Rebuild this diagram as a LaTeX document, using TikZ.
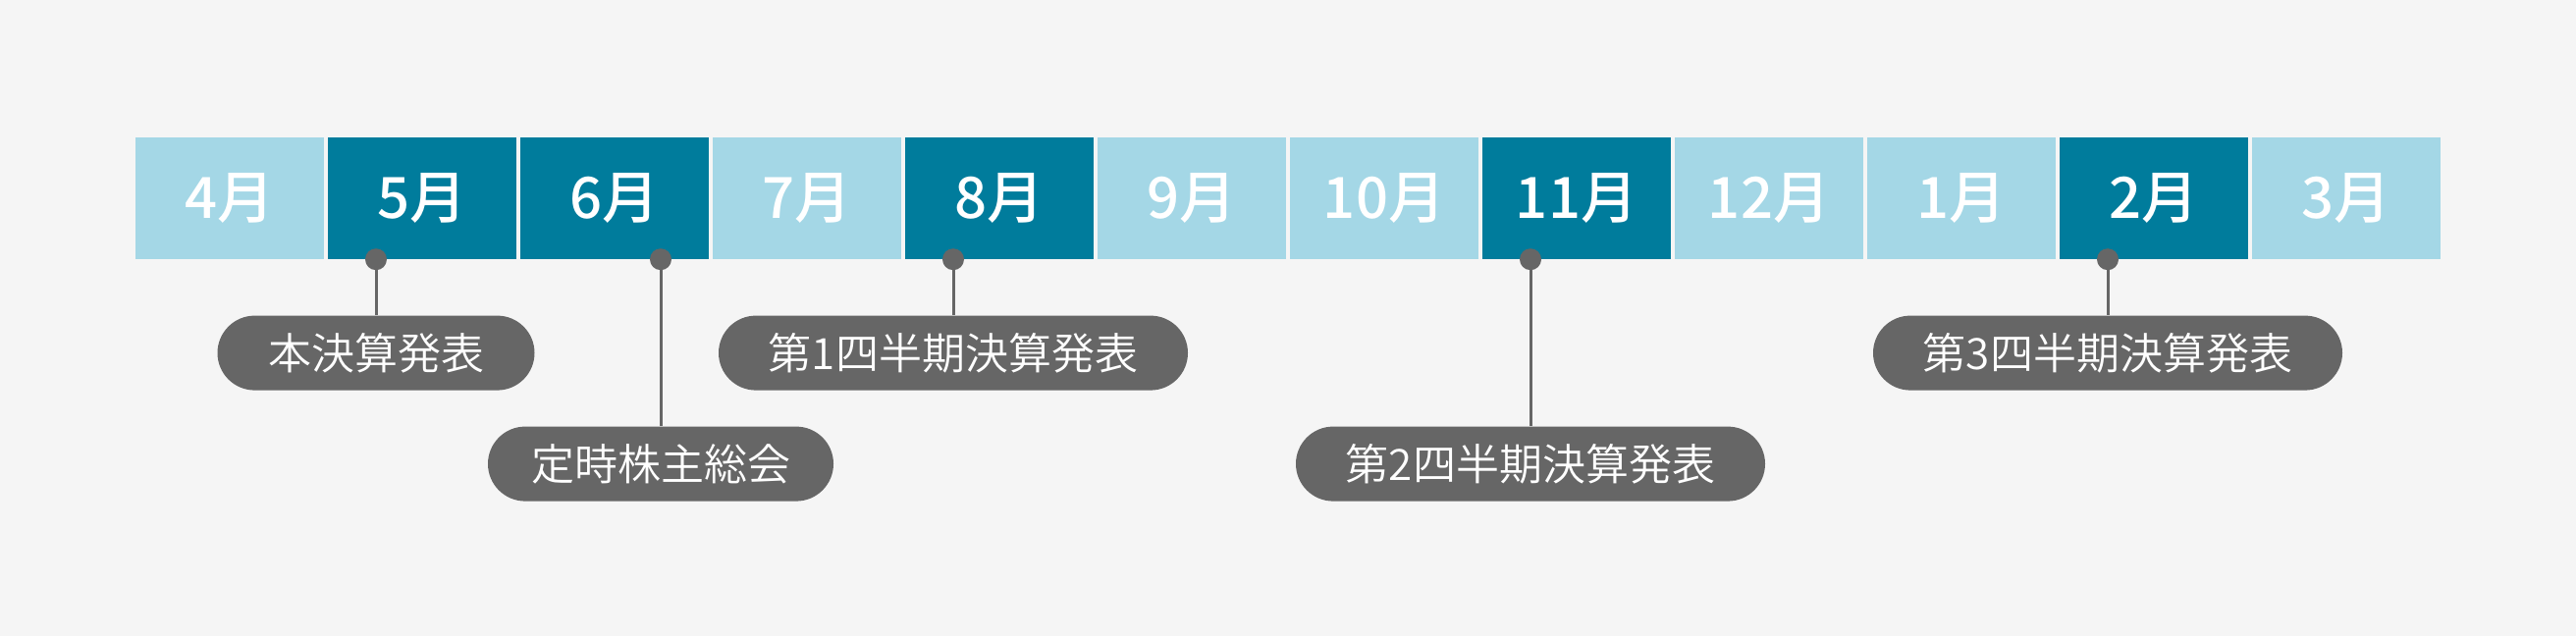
\documentclass[tikz,border=0pt]{standalone}
\usepackage{fontspec}
\newfontfamily\jpfont{Noto Sans CJK JP DemiLight}
\newfontfamily\jpmedium{Noto Sans CJK JP Medium}
\usetikzlibrary{positioning}

\definecolor{bgcol}{HTML}{F5F5F5}
\definecolor{lightcell}{HTML}{A4D7E6}
\definecolor{darkcell}{HTML}{007C9C}
\definecolor{callgray}{HTML}{666666}

\tikzset{
  month/.style={minimum width=192pt, minimum height=124pt, inner sep=0pt,
    text=white, font=\jpmedium\fontsize{58}{58}\selectfont},
  callout/.style={fill=callgray, rounded corners=38pt, minimum height=76pt,
    minimum width=#1, inner sep=0pt, text=white,
    font=\jpfont\fontsize{44}{44}\selectfont},
  pin/.style={circle, fill=callgray, minimum size=22pt, inner sep=0pt},
  stem/.style={callgray, line width=3pt}
}

\begin{document}
\begin{tikzpicture}[x=1pt,y=-1pt]
  \fill[bgcol] (0,0) rectangle (2624,648);
  \useasboundingbox (0,0) rectangle (2624,648);

  % month cells
  \foreach \m/\col [count=\i from 0] in {4/lightcell,5/darkcell,6/darkcell,
      7/lightcell,8/darkcell,9/lightcell,10/lightcell,11/darkcell,
      12/lightcell,1/lightcell,2/darkcell,3/lightcell}
    \node[month, fill=\col] (m\m) at (234+196*\i,202) {\m{}月};

  % pins on the bar
  \node[pin, xshift=-47pt] (p5) at (m5.south) {};
  \node[pin, xshift=47pt] (p6) at (m6.south) {};
  \node[pin, xshift=-47pt] (p8) at (m8.south) {};
  \node[pin, xshift=-47pt] (p11) at (m11.south) {};
  \node[pin, xshift=-47pt] (p2) at (m2.south) {};

  % callouts
  \node[callout=323pt, below=46pt of p5] (c5) {本決算発表};
  \node[callout=352pt, below=159pt of p6] (c6) {定時株主総会};
  \node[callout=478pt, below=46pt of p8] (c8) {第1四半期決算発表};
  \node[callout=478pt, below=159pt of p11] (c11) {第2四半期決算発表};
  \node[callout=478pt, below=46pt of p2] (c2) {第3四半期決算発表};

  \draw[stem] (p5) -- (c5);
  \draw[stem] (p6) -- (c6);
  \draw[stem] (p8) -- (c8);
  \draw[stem] (p11) -- (c11);
  \draw[stem] (p2) -- (c2);
\end{tikzpicture}
\end{document}
